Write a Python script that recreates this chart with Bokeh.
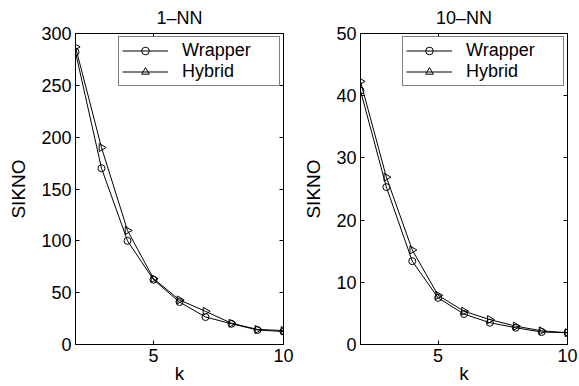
import math
from bokeh.plotting import figure
from bokeh.layouts import row
from bokeh.models import Range1d, LinearAxis, FixedTicker, Legend, LegendItem
from bokeh.embed import file_html
from bokeh.resources import INLINE

# ---- data ----
k = [2, 3, 4, 5, 6, 7, 8, 9, 10]
wrapper_1nn = [282, 170, 100, 62.5, 41, 26.5, 20, 14, 12.5]
hybrid_1nn = [287, 190, 110, 63.5, 43, 32, 20.5, 14.5, 13.5]
wrapper_10nn = [40.8, 25.3, 13.4, 7.5, 4.9, 3.5, 2.7, 2.0, 1.9]
hybrid_10nn = [42.3, 26.9, 15.2, 7.9, 5.35, 4.0, 2.95, 2.2, 1.9]
x_ticks = [5, 10]
y_ticks_1nn = [0, 50, 100, 150, 200, 250, 300]
y_ticks_10nn = [0, 10, 20, 30, 40, 50]
titles = ["1\u2013NN", "10\u2013NN"]
series_labels = ["Wrapper", "Hybrid"]
x_label = "k"
y_label = "SIKNO"

FONT = "Liberation Sans"


def style_axis(ax, ticks, labels=True):
    ax.ticker = FixedTicker(ticks=ticks)
    ax.axis_line_color = "black"
    ax.axis_line_width = 1
    ax.major_tick_line_color = "black"
    ax.major_tick_in = 4
    ax.major_tick_out = 0
    ax.minor_tick_line_color = None
    ax.major_label_text_font = FONT
    ax.major_label_text_color = "black"
    if labels:
        ax.major_label_text_font_size = "18px"
        ax.major_label_standoff = 4
    else:
        ax.major_label_text_font_size = "0px"
        ax.major_label_standoff = 0
        ax.major_label_text_color = None


def make_panel(title, wrap, hyb, y_max, y_ticks, width, b_left, b_right):
    p = figure(width=width, height=386,
               x_range=Range1d(2, 10), y_range=Range1d(0, y_max),
               output_backend="svg", toolbar_location=None,
               min_border_left=b_left, min_border_right=b_right,
               min_border_top=33, min_border_bottom=42)
    p.xgrid.grid_line_color = None
    p.ygrid.grid_line_color = None
    p.outline_line_color = "black"
    p.background_fill_color = "white"
    p.border_fill_color = "white"

    p.title.text = title
    p.title.align = "center"
    p.title.text_font = FONT
    p.title.text_font_size = "18px"
    p.title.text_font_style = "normal"
    p.title.text_color = "black"
    p.title.standoff = 11

    style_axis(p.xaxis[0], x_ticks)
    style_axis(p.yaxis[0], y_ticks)
    p.xaxis.axis_label = x_label
    p.yaxis.axis_label = y_label
    for ax in (p.xaxis[0], p.yaxis[0]):
        ax.axis_label_text_font = FONT
        ax.axis_label_text_font_size = "19px"
        ax.axis_label_text_font_style = "normal"
        ax.axis_label_text_color = "black"
    p.xaxis[0].axis_label_standoff = -2
    p.yaxis[0].axis_label_standoff = 9

    top = LinearAxis()
    style_axis(top, x_ticks, labels=False)
    p.add_layout(top, "above")
    right = LinearAxis()
    style_axis(right, y_ticks, labels=False)
    p.add_layout(right, "right")

    lw = p.line(k, wrap, line_color="black", line_width=1)
    sw = p.scatter(k, wrap, marker="circle", size=7, line_color="black",
                   fill_color=None, line_width=1)
    lh = p.line(k, hyb, line_color="black", line_width=1)
    sh = p.scatter(k, hyb, marker="triangle", size=8, angle=-math.pi / 2,
                   line_color="black", fill_color=None, line_width=1)

    legend = Legend(items=[LegendItem(label=series_labels[0], renderers=[lw, sw]),
                           LegendItem(label=series_labels[1], renderers=[lh, sh])],
                    location="top_right")
    legend.margin = 3
    legend.padding = 3
    legend.spacing = 0
    legend.glyph_width = 46
    legend.glyph_height = 19
    legend.label_height = 19
    legend.label_standoff = 14
    legend.label_width = 94
    legend.label_text_font = FONT
    legend.label_text_font_size = "18px"
    legend.label_text_color = "black"
    legend.border_line_color = "black"
    legend.border_line_width = 1
    legend.background_fill_color = "white"
    legend.background_fill_alpha = 1
    p.add_layout(legend, "center")
    return p


p1 = make_panel(titles[0], wrapper_1nn, hybrid_1nn, 300, y_ticks_1nn, 300, 75, 17)
p2 = make_panel(titles[1], wrapper_10nn, hybrid_10nn, 50, y_ticks_10nn, 279, 59, 12)

layout = row(p1, p2)
open("out.html", "w").write(file_html(layout, INLINE))
